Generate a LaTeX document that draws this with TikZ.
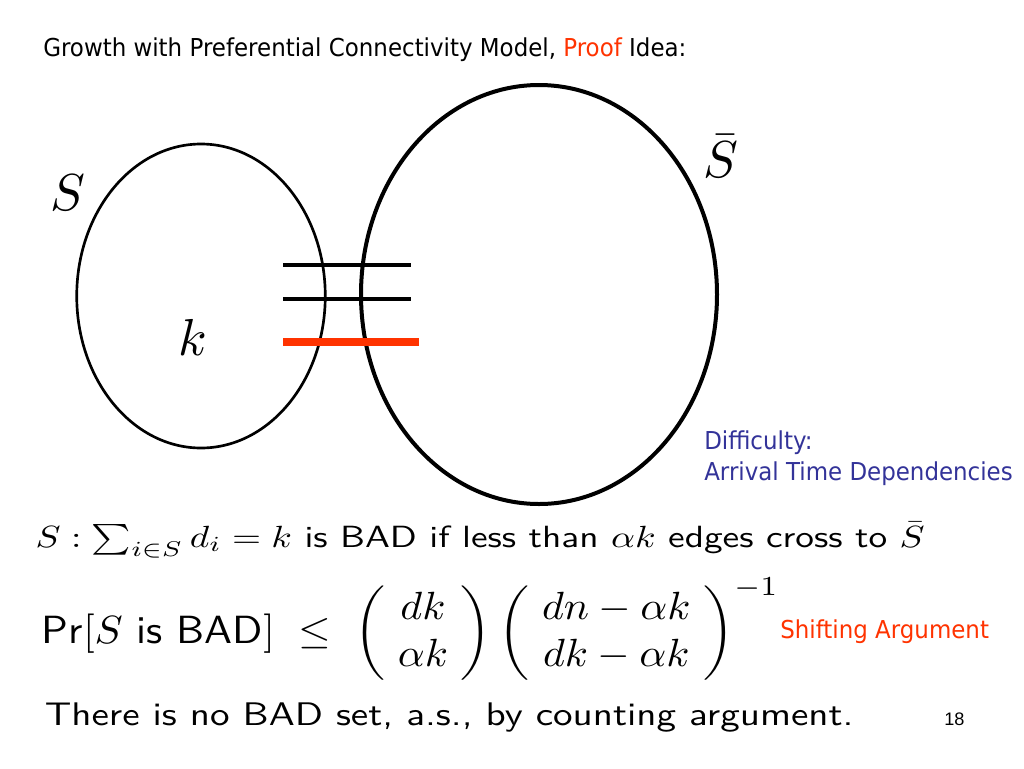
\documentclass[tikz,border=0pt]{standalone}
\usepackage{fontspec}
\usetikzlibrary{shapes.geometric}
\newfontfamily\tahoma[FakeStretch=0.93]{DejaVu Sans}
\newfontfamily\arialf{Liberation Sans}
\definecolor{slidered}{RGB}{255,51,0}
\definecolor{slideblue}{RGB}{51,51,153}
\begin{document}
\begin{tikzpicture}[x=0.75pt,y=-0.75pt,
  titletext/.style={font={\tahoma\fontsize{18.5}{22}\selectfont}, inner sep=0pt, anchor=base west},
  sansline/.style={font={\sffamily\fontsize{10}{12}\selectfont}, inner sep=0pt, anchor=base west},
  setlabel/.style={font={\fontsize{10}{12}\selectfont}, inner sep=0pt, scale=3.9},
  setshape/.style={ellipse, draw, inner sep=0pt},
  edgeline/.style={line width=3pt},
  badedge/.style={line width=6pt, slidered}]
\useasboundingbox (0,0) rectangle (1024,768);
\fill[white] (0,0) rectangle (1024,768);

\node[titletext] (title) at (43,56) {Growth with Preferential Connectivity Model, \textcolor{slidered}{Proof} Idea:};

\node[setshape, line width=2pt, minimum width=186.4pt, minimum height=228pt] (S) at (201,296) {};
\node[setshape, line width=3pt, minimum width=267pt, minimum height=314.25pt] (Sbar) at (539,294.5) {};

\node[setlabel] (Slab) at (68,193) {$S$};
\node[setlabel] (klab) at (193,337) {$k$};
\node[setlabel] (Sbarlab) at (721,156) {$\bar S$};

\coordinate (e1a) at (283,265); \coordinate (e1b) at (411,265);
\coordinate (e2a) at (283,299); \coordinate (e2b) at (411,299);
\coordinate (e3a) at (283,341.5); \coordinate (e3b) at (419,341.5);
\draw[edgeline] (e1a) -- (e1b);
\draw[edgeline] (e2a) -- (e2b);
\draw[badedge] (e3a) -- (e3b);

\node[titletext, text=slideblue] (diff) at (704,449) {Difficulty:};
\node[titletext, text=slideblue] (arr) at (704,480) {Arrival Time Dependencies};

\node[sansline, xscale=2.8, yscale=2.3] (l1) at (35,547) {$S:\sum_{i\in S} d_i = k$ is BAD if less than $\alpha k$ edges cross to $\bar S$};
\node[sansline, xscale=3.15, yscale=2.95] (l2) at (41,643) {\setlength{\arraycolsep}{3pt}Pr$[S$ is BAD$]\;\leq\;\left(\begin{array}{c}dk\\ \alpha k\end{array}\right)\left(\begin{array}{c}dn-\alpha k\\ dk-\alpha k\end{array}\right)^{-1}$};
\node[titletext, text=slidered] (shift) at (780,638) {Shifting Argument};
\node[sansline, xscale=2.93, yscale=2.45] (l3) at (44,725) {There is no BAD set, a.s., by counting argument.};
\node[font={\arialf\fontsize{13.6}{16}\selectfont}, inner sep=0pt, anchor=base west] (pg) at (944,725) {18};
\end{tikzpicture}
\end{document}
